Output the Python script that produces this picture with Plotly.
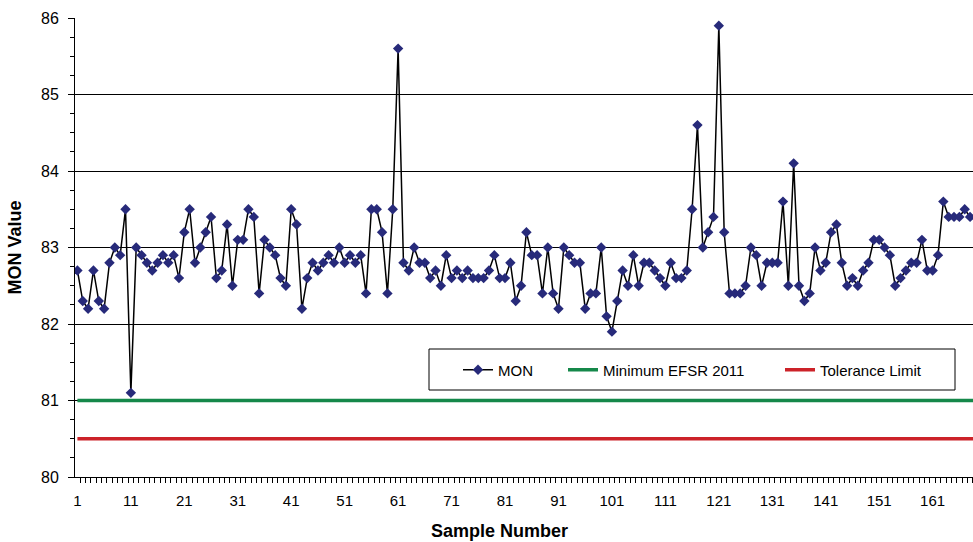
import plotly.graph_objects as go

# ---- data ----
samples = list(range(1, 170))
mon = [
    82.7, 82.3, 82.2, 82.7, 82.3, 82.2, 82.8, 83.0, 82.9, 83.5,   # 1-10
    81.1, 83.0, 82.9, 82.8, 82.7, 82.8, 82.9, 82.8, 82.9, 82.6,   # 11-20
    83.2, 83.5, 82.8, 83.0, 83.2, 83.4, 82.6, 82.7, 83.3, 82.5,   # 21-30
    83.1, 83.1, 83.5, 83.4, 82.4, 83.1, 83.0, 82.9, 82.6, 82.5,   # 31-40
    83.5, 83.3, 82.2, 82.6, 82.8, 82.7, 82.8, 82.9, 82.8, 83.0,   # 41-50
    82.8, 82.9, 82.8, 82.9, 82.4, 83.5, 83.5, 83.2, 82.4, 83.5,   # 51-60
    85.6, 82.8, 82.7, 83.0, 82.8, 82.8, 82.6, 82.7, 82.5, 82.9,   # 61-70
    82.6, 82.7, 82.6, 82.7, 82.6, 82.6, 82.6, 82.7, 82.9, 82.6,   # 71-80
    82.6, 82.8, 82.3, 82.5, 83.2, 82.9, 82.9, 82.4, 83.0, 82.4,   # 81-90
    82.2, 83.0, 82.9, 82.8, 82.8, 82.2, 82.4, 82.4, 83.0, 82.1,   # 91-100
    81.9, 82.3, 82.7, 82.5, 82.9, 82.5, 82.8, 82.8, 82.7, 82.6,   # 101-110
    82.5, 82.8, 82.6, 82.6, 82.7, 83.5, 84.6, 83.0, 83.2, 83.4,   # 111-120
    85.9, 83.2, 82.4, 82.4, 82.4, 82.5, 83.0, 82.9, 82.5, 82.8,   # 121-130
    82.8, 82.8, 83.6, 82.5, 84.1, 82.5, 82.3, 82.4, 83.0, 82.7,   # 131-140
    82.8, 83.2, 83.3, 82.8, 82.5, 82.6, 82.5, 82.7, 82.8, 83.1,   # 141-150
    83.1, 83.0, 82.9, 82.5, 82.6, 82.7, 82.8, 82.8, 83.1, 82.7,   # 151-160
    82.7, 82.9, 83.6, 83.4, 83.4, 83.4, 83.5, 83.4, 83.4,         # 161-169
]
minimum_efsr_2011 = 81.0
tolerance_limit = 80.5
x_tick_vals = list(range(1, 162, 10))
x_tick_text = [str(v) for v in x_tick_vals]
y_tick_vals = [80, 81, 82, 83, 84, 85, 86]

FONT = "Liberation Sans, Arial, sans-serif"

fig = go.Figure()
fig.add_trace(go.Scatter(
    x=samples, y=mon, name="MON", mode="lines+markers",
    line=dict(color="black", width=1.5),
    marker=dict(symbol="diamond", size=8, color="#272a7a"),
    legendwidth=60,
))
fig.add_trace(go.Scatter(
    x=samples, y=[minimum_efsr_2011] * len(samples), name="Minimum EFSR 2011",
    mode="lines", line=dict(color="#15884a", width=3.5),
    legendwidth=172,
))
fig.add_trace(go.Scatter(
    x=samples, y=[tolerance_limit] * len(samples), name="Tolerance Limit",
    mode="lines", line=dict(color="#cc2229", width=3.5),
    legendwidth=110,
))

# legend frame
fig.add_shape(type="rect", xref="paper", yref="paper",
              x0=(429 - 75) / 898, x1=(955 - 75) / 898,
              y0=(477 - 390) / 459, y1=(477 - 349) / 459,
              line=dict(color="black", width=1), fillcolor="white", layer="above")

fig.add_annotation(text="<b>Sample Number</b>", xref="paper", yref="paper",
                   x=(499 - 75) / 898, y=(477 - 531) / 459,
                   xanchor="center", yanchor="middle", showarrow=False,
                   font=dict(family=FONT, size=18, color="black"))

fig.update_layout(
    width=973, height=542,
    margin=dict(l=75, r=0, t=18, b=65),
    paper_bgcolor="white", plot_bgcolor="white",
    font=dict(family=FONT, size=15, color="black"),
    showlegend=True,
    legend=dict(orientation="h", x=(458 - 75) / 898, y=(477 - 370) / 459,
                xanchor="left", yanchor="middle",
                bgcolor="rgba(0,0,0,0)", borderwidth=0,
                font=dict(family=FONT, size=15, color="black"),
                itemwidth=30),
    xaxis=dict(
        range=[0.55, 168.55], tickmode="array", tickvals=x_tick_vals,
        ticktext=x_tick_text, ticks="outside", ticklen=5,
        tickcolor="rgba(0,0,0,0)", ticklabelstandoff=5,
        showline=True, linecolor="black", linewidth=1,
        showgrid=False, zeroline=False,
        tickfont=dict(family=FONT, size=15, color="black"),
        minor=dict(tickmode="linear", tick0=0.5, dtick=1, ticks="outside",
                   ticklen=5, tickcolor="black", showgrid=False),
    ),
    yaxis=dict(
        range=[80, 86], tickmode="array", tickvals=y_tick_vals,
        ticks="outside", ticklen=6, tickcolor="black", ticklabelstandoff=6,
        showline=True, linecolor="black", linewidth=1,
        showgrid=True, gridcolor="black", gridwidth=1, zeroline=False,
        tickfont=dict(family=FONT, size=16, color="black"),
        title=dict(text="<b>MON Value</b>", standoff=14,
                   font=dict(family=FONT, size=18, color="black")),
        minor=dict(tickmode="linear", tick0=80, dtick=0.25, ticks="outside",
                   ticklen=4, tickcolor="black", showgrid=False),
    ),
)

fig.write_html("out.html")
